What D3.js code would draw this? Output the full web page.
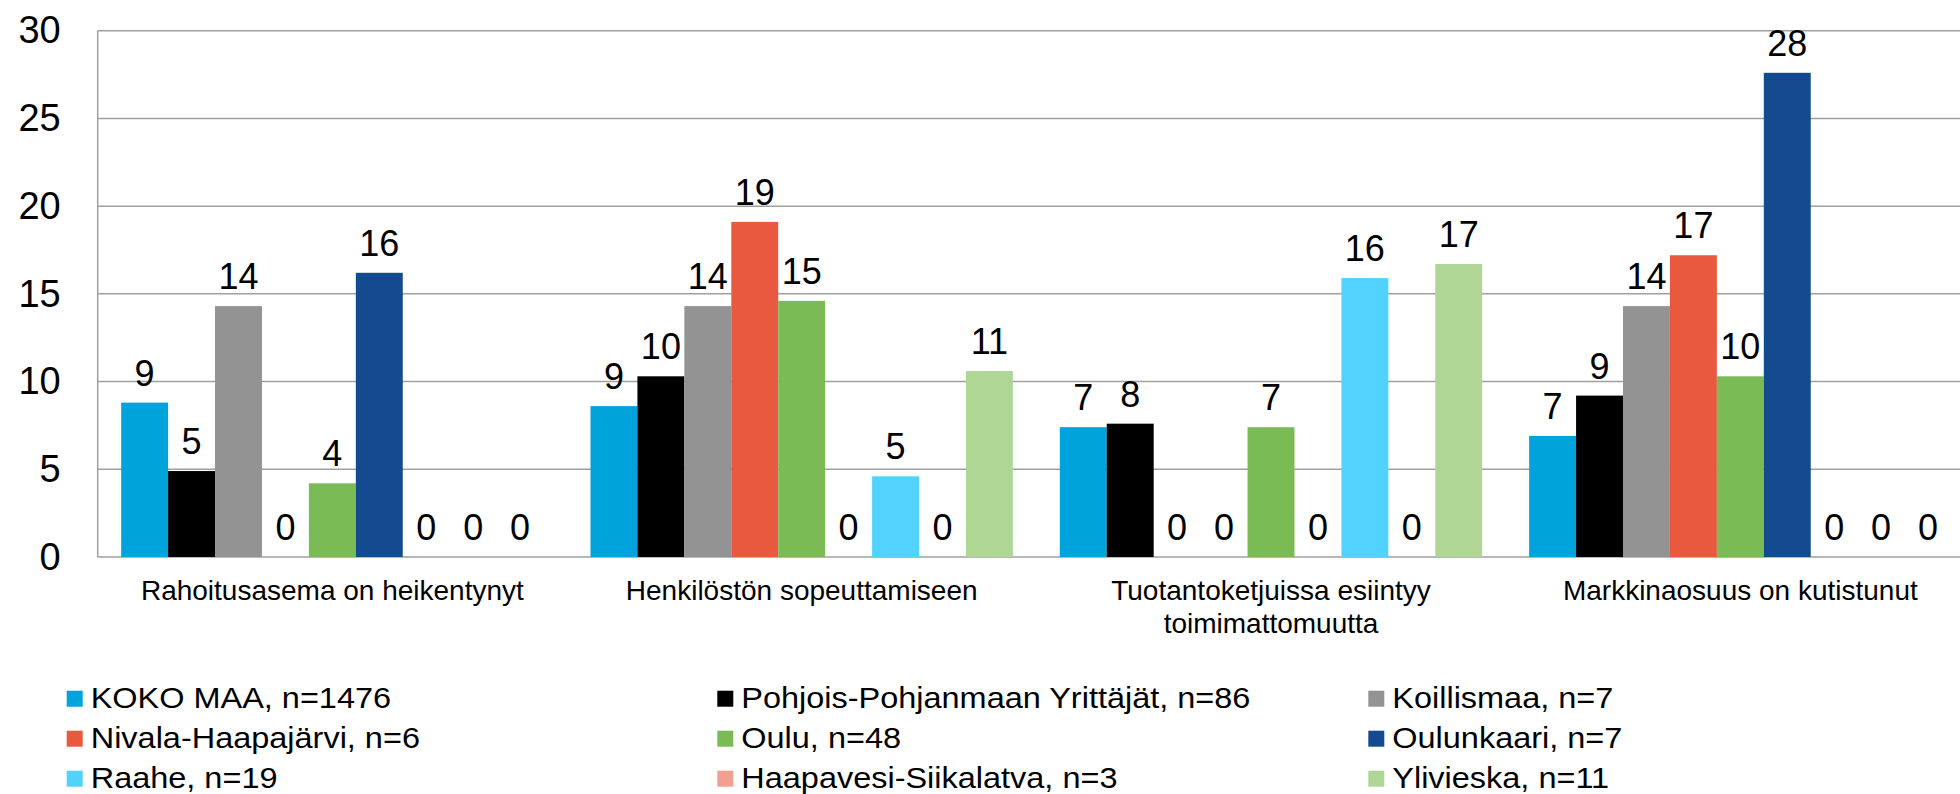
<html>

<head>
    <meta charset="utf-8">
    <style>
        body {
            margin: 0;
            background: white;
            font-family: "Liberation Sans", Arial, Helvetica, sans-serif;
        }

        svg {
            display: block;
        }
    </style>
    <script src="https://cdn.jsdelivr.net/npm/d3@7"></script>
</head>

<body>
    <svg id="Chart"></svg>
</body>
<script>
    // chart data
    let categories = [
        "Rahoitusasema on heikentynyt",
        "Henkilöstön sopeuttamiseen",
        "Tuotantoketjuissa esiintyy toimimattomuutta",
        "Markkinaosuus on kutistunut"
    ]
    let seriesNames = [
        "KOKO MAA, n=1476",
        "Pohjois-Pohjanmaan Yrittäjät, n=86",
        "Koillismaa, n=7",
        "Nivala-Haapajärvi, n=6",
        "Oulu, n=48",
        "Oulunkaari, n=7",
        "Raahe, n=19",
        "Haapavesi-Siikalatva, n=3",
        "Ylivieska, n=11"
    ]
    let seriesColors = ["#00A3DA", "#000000", "#939393", "#E95940", "#7BBB55",
        "#144A8F", "#52D3FF", "#F29F92", "#B0D696"]
    // one array per series, values in category order
    let kokoMaa = [8.8, 8.6, 7.4, 6.9]
    let pohjoisPohjanmaa = [4.9, 10.3, 7.6, 9.2]
    let koillismaa = [14.3, 14.3, 0, 14.3]
    let nivalaHaapajarvi = [0, 19.1, 0, 17.2]
    let oulu = [4.2, 14.6, 7.4, 10.3]
    let oulunkaari = [16.2, 0, 0, 27.6]
    let raahe = [0, 4.6, 15.9, 0]
    let haapavesiSiikalatva = [0, 0, 0, 0]
    let ylivieska = [0, 10.6, 16.7, 0]
    let yTicks = [0, 5, 10, 15, 20, 25, 30]

    let seriesValues = [kokoMaa, pohjoisPohjanmaa, koillismaa, nivalaHaapajarvi, oulu,
        oulunkaari, raahe, haapavesiSiikalatva, ylivieska]

    function getConfig() {
        let width = 1960
        let height = 794
        let margin = { top: 30.7, left: 97.7, bottom: 237, right: -15 }
        let bodyWidth = width - margin.left - margin.right
        let bodyHeight = height - margin.top - margin.bottom
        let container = d3.select("#Chart")
            .attr("width", width)
            .attr("height", height)
        return { width, height, margin, bodyWidth, bodyHeight, container }
    }

    function getScales(config) {
        let { bodyWidth, bodyHeight } = config
        let xScale = d3.scaleBand()
            .domain(categories)
            .range([0, bodyWidth])
            .padding(0)
        let seriesScale = d3.scaleBand()
            .domain(seriesNames)
            .range([0, xScale.bandwidth()])
            .paddingInner(0)
            .paddingOuter(0.5)
        let yScale = d3.scaleLinear()
            .domain([0, 30])
            .range([bodyHeight, 0])
        return { xScale, seriesScale, yScale }
    }

    function drawGrid(scales, config) {
        let { yScale } = scales
        let { container, margin, bodyWidth, bodyHeight } = config
        let grid = container.append("g")
            .attr("transform", `translate(${margin.left},${margin.top})`)

        grid.selectAll(".grid").data(yTicks)
            .enter().append("line")
            .attr("x1", 0)
            .attr("x2", bodyWidth)
            .attr("y1", d => yScale(d))
            .attr("y2", d => yScale(d))
            .attr("stroke", "#a0a0a0")
            .attr("stroke-width", 1.5)

        grid.append("line")
            .attr("x1", 0).attr("x2", 0)
            .attr("y1", 0).attr("y2", bodyHeight)
            .attr("stroke", "#a0a0a0")
            .attr("stroke-width", 1.5)
    }

    function drawBars(scales, config) {
        let { xScale, seriesScale, yScale } = scales
        let { container, margin } = config
        let rows = []
        categories.forEach((c, ci) => {
            seriesNames.forEach((s, si) => {
                rows.push({ category: c, series: s, color: seriesColors[si], value: seriesValues[si][ci] })
            })
        })

        let body = container.append("g")
            .attr("transform", `translate(${margin.left},${margin.top})`)

        body.selectAll(".bar").data(rows.filter(d => d.value > 0))
            .enter().append("rect")
            .attr("class", "bar")
            .attr("x", d => xScale(d.category) + seriesScale(d.series))
            .attr("width", seriesScale.bandwidth())
            .attr("y", d => yScale(d.value))
            .attr("height", d => yScale(0) - yScale(d.value))
            .attr("fill", d => d.color)

        body.selectAll(".value").data(rows)
            .enter().append("text")
            .attr("class", "value")
            .attr("x", d => xScale(d.category) + seriesScale(d.series) + seriesScale.bandwidth() / 2)
            .attr("y", d => yScale(d.value) - 17)
            .attr("text-anchor", "middle")
            .style("font-size", "36px")
            .attr("fill", "#000")
            .text(d => d3.format(".0f")(d.value))
    }

    function wrap(text, maxWidth) {
        text.each(function () {
            let t = d3.select(this)
            let words = t.text().split(" ")
            let lines = [[]]
            t.text(null)
            let probe = t.append("tspan")
            words.forEach(w => {
                let line = lines[lines.length - 1]
                probe.text(line.concat([w]).join(" "))
                if (probe.node().getComputedTextLength() > maxWidth && line.length > 0) {
                    lines.push([w])
                } else {
                    line.push(w)
                }
            })
            probe.remove()
            lines.forEach((l, i) => {
                t.append("tspan")
                    .attr("x", t.attr("x"))
                    .attr("dy", i == 0 ? 0 : 32.7)
                    .text(l.join(" "))
            })
        })
    }

    function drawAxes(scales, config) {
        let { xScale, yScale } = scales
        let { container, margin, bodyHeight } = config

        let axisY = d3.axisLeft(yScale).tickValues(yTicks).tickSize(0).tickPadding(37)
        let gy = container.append("g")
            .attr("transform", `translate(${margin.left},${margin.top})`)
            .call(axisY)
        gy.select(".domain").remove()
        gy.selectAll("text")
            .style("font-size", "38px")
            .style("font-family", "'Liberation Sans', Arial, sans-serif")
            .attr("fill", "#000")

        let axisX = d3.axisBottom(xScale).tickSize(0).tickPadding(0)
        let gx = container.append("g")
            .attr("transform", `translate(${margin.left},${margin.top + bodyHeight})`)
            .call(axisX)
        gx.select(".domain").remove()
        gx.selectAll("text")
            .attr("x", 0)
            .attr("y", 43)
            .attr("dy", 0)
            .style("font-size", "28px")
            .style("font-family", "'Liberation Sans', Arial, sans-serif")
            .attr("fill", "#000")
            .call(wrap, 440)
    }

    function drawLegend(config) {
        let { container } = config
        let colX = [66.7, 717.3, 1368.3]
        let rowY = [690.7, 730.7, 770.7]
        let legend = container.append("g")
        let items = legend.selectAll(".legend").data(seriesNames)
            .enter().append("g")
            .attr("transform", (d, i) => `translate(${colX[i % 3]},${rowY[Math.floor(i / 3)]})`)
        items.append("rect")
            .attr("width", 16)
            .attr("height", 16)
            .attr("fill", (d, i) => seriesColors[i])
        items.append("text")
            .attr("transform", "translate(24,17.5) scale(1.12,1)")
            .style("font-size", "29px")
            .attr("fill", "#000")
            .text(d => d)
    }

    function drawChart() {
        let config = getConfig()
        let scales = getScales(config)
        drawGrid(scales, config)
        drawBars(scales, config)
        drawAxes(scales, config)
        drawLegend(config)
    }

    drawChart()
</script>

</html>
